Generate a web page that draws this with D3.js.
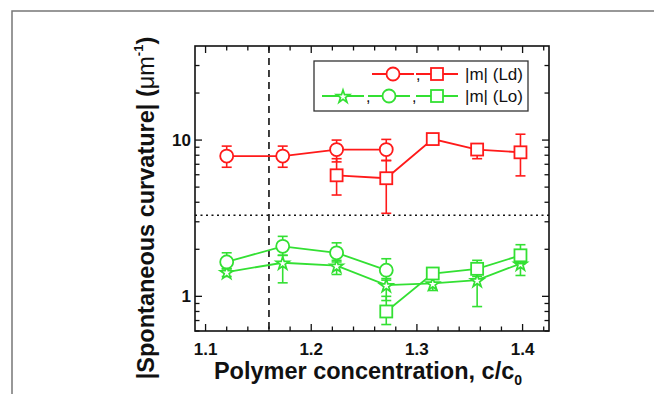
<!DOCTYPE html>
<html>
<head>
<meta charset="utf-8">
<script src="https://cdn.jsdelivr.net/npm/d3@7"></script>
<style>
  body { margin: 0; background: #fff; }
  svg { display: block; font-family: "Liberation Sans", Arial, sans-serif; }
</style>
</head>
<body>
<svg id="chart" width="654" height="394"></svg>
<script>
// data: [c/c0, value, lower error end, upper error end]
const ldCircles = [
  [1.12, 7.9, 6.7, 9.15],
  [1.173, 7.9, 6.7, 9.15],
  [1.224, 8.7, 7.25, 10.0],
  [1.271, 8.7, 7.4, 10.1],
];
const ldSquares = [
  [1.224, 5.95, 4.45, 7.6],
  [1.271, 5.7, 3.4, 7.4],
  [1.315, 10.15, 9.6, 10.7],
  [1.357, 8.7, 7.6, 9.4],
  [1.398, 8.35, 5.9, 10.9],
];
const loStars = [
  [1.12, 1.43, 1.34, 1.5],
  [1.173, 1.64, 1.22, 1.83],
  [1.224, 1.57, 1.38, 1.7],
  [1.271, 1.18, 0.94, 1.3],
  [1.315, 1.21, 1.09, 1.32],
  [1.357, 1.27, 0.86, 1.58],
  [1.398, 1.62, 1.36, 1.88],
];
const loCircles = [
  [1.12, 1.66, 1.5, 1.9],
  [1.173, 2.09, 1.83, 2.42],
  [1.224, 1.9, 1.66, 2.2],
  [1.271, 1.47, 1.27, 1.74],
];
const loSquares = [
  [1.271, 0.8, 0.66, 1.0],
  [1.315, 1.4, 1.3, 1.45],
  [1.357, 1.5, 1.34, 1.7],
  [1.398, 1.83, 1.62, 2.14],
];
const xTicks = [1.1, 1.2, 1.3, 1.4];
const yTicks = [1, 10];
const dashedX = 1.16;
const dottedY = 3.3;

const red = "#ff1a1a", green = "#33e033";

const svg = d3.select("#chart");
const m = { left: 195, top: 46, right: 549, bottom: 331 };

// outer frame (right and bottom edges fall outside the picture)
svg.append("rect").attr("x", 12).attr("y", 11).attr("width", 700).attr("height", 450)
  .attr("fill", "none").attr("stroke", "#777").attr("stroke-width", 1.5);

const x = d3.scaleLinear().domain([1.09, 1.425]).range([m.left, m.right]);
const y = d3.scaleLog().domain([0.6, 40]).range([m.bottom, m.top]);

const plot = svg.append("g");

// reference lines
plot.append("line").attr("x1", x(dashedX)).attr("x2", x(dashedX))
  .attr("y1", m.top).attr("y2", m.bottom)
  .attr("stroke", "#111").attr("stroke-width", 1.6).attr("stroke-dasharray", "7,5");
plot.append("line").attr("x1", m.left).attr("x2", m.right)
  .attr("y1", y(dottedY)).attr("y2", y(dottedY))
  .attr("stroke", "#111").attr("stroke-width", 1.6).attr("stroke-dasharray", "2,3.5");

// ticks, all pointing inward
const minorX = d3.range(1.1, 1.421, 0.02);
const minorY = [];
[0.1, 1, 10].forEach((d) => d3.range(2, 10).forEach((k) => {
  const v = d * k;
  if (v > 0.6 && v < 40) minorY.push(v);
}));
const tk = svg.append("g").attr("stroke", "#111").attr("stroke-width", 1.3);
minorX.forEach((v) => {
  const major = xTicks.some((t) => Math.abs(t - v) < 1e-6);
  const len = major ? 7 : 4.5;
  tk.append("line").attr("x1", x(v)).attr("x2", x(v)).attr("y1", m.bottom).attr("y2", m.bottom - len);
  tk.append("line").attr("x1", x(v)).attr("x2", x(v)).attr("y1", m.top).attr("y2", m.top + len);
});
minorY.concat(yTicks).forEach((v) => {
  const len = yTicks.includes(v) ? 7 : 4.5;
  tk.append("line").attr("y1", y(v)).attr("y2", y(v)).attr("x1", m.left).attr("x2", m.left + len);
  tk.append("line").attr("y1", y(v)).attr("y2", y(v)).attr("x1", m.right).attr("x2", m.right - len);
});
svg.append("rect").attr("x", m.left).attr("y", m.top)
  .attr("width", m.right - m.left).attr("height", m.bottom - m.top)
  .attr("fill", "none").attr("stroke", "#111").attr("stroke-width", 1.6);

// tick labels
svg.append("g").selectAll("text").data(xTicks).join("text")
  .attr("x", (d) => x(d)).attr("y", 355).attr("text-anchor", "middle")
  .attr("font-size", 17).attr("font-weight", "bold").attr("fill", "#111")
  .text((d) => d3.format(".1f")(d));
svg.append("g").selectAll("text").data(yTicks).join("text")
  .attr("x", 191).attr("y", (d) => y(d) + 6).attr("text-anchor", "end")
  .attr("font-size", 17).attr("font-weight", "bold").attr("fill", "#111")
  .text((d) => d);

// axis titles
const xt = svg.append("text").attr("x", 368).attr("y", 379).attr("text-anchor", "middle")
  .attr("font-size", 23.5).attr("font-weight", "bold").attr("fill", "#111");
xt.append("tspan").text("Polymer concentration, c/c");
xt.append("tspan").attr("font-size", 14).attr("dy", 6).text("0");

const yt = svg.append("text").attr("transform", "translate(154,208) rotate(-90)")
  .attr("text-anchor", "middle").attr("font-size", 23.5).attr("font-weight", "bold").attr("fill", "#111");
yt.append("tspan").text("|Spontaneous curvature| (");
yt.append("tspan").attr("font-weight", "normal").text("\u03bcm");
yt.append("tspan").attr("font-size", 13).attr("dy", -11).text("-1");
yt.append("tspan").attr("dy", 11).text(")");

// markers
const star = d3.symbol().type(d3.symbolStar).size(52);
function marker(g, shape, cx, cy, color) {
  if (shape === "circle") {
    g.append("circle").attr("cx", cx).attr("cy", cy).attr("r", 6.5)
      .attr("fill", "#fff").attr("stroke", color).attr("stroke-width", 1.8);
  } else if (shape === "square") {
    g.append("rect").attr("x", cx - 6).attr("y", cy - 6).attr("width", 12).attr("height", 12)
      .attr("fill", "#fff").attr("stroke", color).attr("stroke-width", 1.8);
  } else {
    g.append("path").attr("d", star).attr("transform", `translate(${cx},${cy + 0.8})`)
      .attr("fill", "#fff").attr("stroke", color).attr("stroke-width", 1.7);
  }
}

const line = d3.line().x((d) => x(d[0])).y((d) => y(d[1]));
function series(data, shape, color) {
  const g = svg.append("g");
  g.append("path").attr("d", line(data)).attr("fill", "none")
    .attr("stroke", color).attr("stroke-width", 1.8);
  data.forEach((d) => {
    const cx = x(d[0]);
    g.append("line").attr("x1", cx).attr("x2", cx).attr("y1", y(d[2])).attr("y2", y(d[3]))
      .attr("stroke", color).attr("stroke-width", 1.6);
    [d[2], d[3]].forEach((v) => g.append("line").attr("x1", cx - 5).attr("x2", cx + 5)
      .attr("y1", y(v)).attr("y2", y(v)).attr("stroke", color).attr("stroke-width", 1.6));
  });
  data.forEach((d) => marker(g, shape, x(d[0]), y(d[1]), color));
}
series(ldCircles, "circle", red);
series(ldSquares, "square", red);
series(loStars, "star", green);
series(loCircles, "circle", green);
series(loSquares, "square", green);

// legend
const lg = svg.append("g");
lg.append("rect").attr("x", 314).attr("y", 61).attr("width", 214).attr("height", 50)
  .attr("fill", "#fff").attr("stroke", "#333").attr("stroke-width", 1.3);
const legendRows = [
  { y: 74, color: red, items: [[393, "circle"], [437, "square"]], label: "|m| (Ld)" },
  { y: 96, color: green, items: [[343, "star"], [389, "circle"], [437, "square"]], label: "|m| (Lo)" },
];
legendRows.forEach((r) => {
  r.items.forEach(([cx, shape], i) => {
    lg.append("line").attr("x1", cx - 21).attr("x2", cx + 21).attr("y1", r.y).attr("y2", r.y)
      .attr("stroke", r.color).attr("stroke-width", 1.8);
    marker(lg, shape, cx, r.y, r.color);
    if (i < r.items.length - 1) {
      lg.append("text").attr("x", cx + 23).attr("y", r.y + 6).attr("font-size", 16)
        .attr("fill", "#111").text(",");
    }
  });
  lg.append("text").attr("x", 465).attr("y", r.y + 6).attr("font-size", 17)
    .attr("fill", "#111").text(r.label);
});
</script>
</body>
</html>
